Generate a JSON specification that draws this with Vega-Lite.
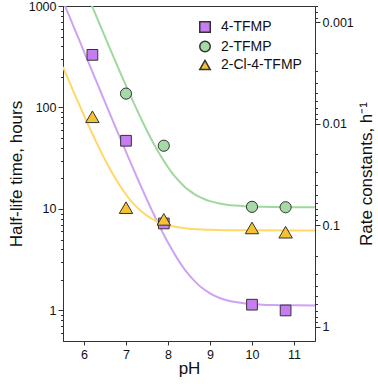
{
  "$schema": "https://vega.github.io/schema/vega-lite/v6.json",
  "width": 252,
  "height": 335,
  "autosize": {"type": "none"},
  "padding": {"left": 63, "top": 6, "right": 63, "bottom": 48},
  "background": "white",
  "config": {
    "font": "Liberation Sans",
    "view": {"stroke": "#333333", "strokeWidth": 1},
    "axis": {"grid": false, "domainColor": "#333333", "tickColor": "#333333", "labelColor": "#111111", "titleColor": "#111111", "labelFontSize": 12.5, "titleFontSize": 17, "titleFontWeight": "normal", "labelPadding": 3}
  },
  "datasets": {
    "curves": [
      {"pH": 5.5, "t": 1121, "compound": "4-TFMP"},
      {"pH": 5.6, "t": 890.7, "compound": "4-TFMP"},
      {"pH": 5.7, "t": 707.8, "compound": "4-TFMP"},
      {"pH": 5.8, "t": 562.5, "compound": "4-TFMP"},
      {"pH": 5.9, "t": 447.0, "compound": "4-TFMP"},
      {"pH": 6.0, "t": 355.3, "compound": "4-TFMP"},
      {"pH": 6.1, "t": 282.5, "compound": "4-TFMP"},
      {"pH": 6.2, "t": 224.6, "compound": "4-TFMP"},
      {"pH": 6.3, "t": 178.6, "compound": "4-TFMP"},
      {"pH": 6.4, "t": 142.1, "compound": "4-TFMP"},
      {"pH": 6.5, "t": 113.1, "compound": "4-TFMP"},
      {"pH": 6.6, "t": 90.08, "compound": "4-TFMP"},
      {"pH": 6.7, "t": 71.79, "compound": "4-TFMP"},
      {"pH": 6.8, "t": 57.25, "compound": "4-TFMP"},
      {"pH": 6.9, "t": 45.71, "compound": "4-TFMP"},
      {"pH": 7.0, "t": 36.54, "compound": "4-TFMP"},
      {"pH": 7.1, "t": 29.25, "compound": "4-TFMP"},
      {"pH": 7.2, "t": 23.47, "compound": "4-TFMP"},
      {"pH": 7.3, "t": 18.87, "compound": "4-TFMP"},
      {"pH": 7.4, "t": 15.22, "compound": "4-TFMP"},
      {"pH": 7.5, "t": 12.32, "compound": "4-TFMP"},
      {"pH": 7.6, "t": 10.02, "compound": "4-TFMP"},
      {"pH": 7.7, "t": 8.187, "compound": "4-TFMP"},
      {"pH": 7.8, "t": 6.733, "compound": "4-TFMP"},
      {"pH": 7.9, "t": 5.579, "compound": "4-TFMP"},
      {"pH": 8.0, "t": 4.662, "compound": "4-TFMP"},
      {"pH": 8.1, "t": 3.933, "compound": "4-TFMP"},
      {"pH": 8.2, "t": 3.355, "compound": "4-TFMP"},
      {"pH": 8.3, "t": 2.895, "compound": "4-TFMP"},
      {"pH": 8.4, "t": 2.530, "compound": "4-TFMP"},
      {"pH": 8.5, "t": 2.240, "compound": "4-TFMP"},
      {"pH": 8.6, "t": 2.010, "compound": "4-TFMP"},
      {"pH": 8.7, "t": 1.827, "compound": "4-TFMP"},
      {"pH": 8.8, "t": 1.681, "compound": "4-TFMP"},
      {"pH": 8.9, "t": 1.566, "compound": "4-TFMP"},
      {"pH": 9.0, "t": 1.474, "compound": "4-TFMP"},
      {"pH": 9.2, "t": 1.343, "compound": "4-TFMP"},
      {"pH": 9.4, "t": 1.261, "compound": "4-TFMP"},
      {"pH": 9.6, "t": 1.209, "compound": "4-TFMP"},
      {"pH": 9.8, "t": 1.176, "compound": "4-TFMP"},
      {"pH": 10.0, "t": 1.155, "compound": "4-TFMP"},
      {"pH": 10.25, "t": 1.140, "compound": "4-TFMP"},
      {"pH": 10.5, "t": 1.131, "compound": "4-TFMP"},
      {"pH": 11.0, "t": 1.124, "compound": "4-TFMP"},
      {"pH": 11.5, "t": 1.121, "compound": "4-TFMP"},
      {"pH": 6.1, "t": 1232, "compound": "2-TFMP"},
      {"pH": 6.2, "t": 981.0, "compound": "2-TFMP"},
      {"pH": 6.3, "t": 781.4, "compound": "2-TFMP"},
      {"pH": 6.4, "t": 622.8, "compound": "2-TFMP"},
      {"pH": 6.5, "t": 496.8, "compound": "2-TFMP"},
      {"pH": 6.6, "t": 396.8, "compound": "2-TFMP"},
      {"pH": 6.7, "t": 317.3, "compound": "2-TFMP"},
      {"pH": 6.8, "t": 254.2, "compound": "2-TFMP"},
      {"pH": 6.9, "t": 204.1, "compound": "2-TFMP"},
      {"pH": 7.0, "t": 164.2, "compound": "2-TFMP"},
      {"pH": 7.1, "t": 132.6, "compound": "2-TFMP"},
      {"pH": 7.2, "t": 107.5, "compound": "2-TFMP"},
      {"pH": 7.3, "t": 87.5, "compound": "2-TFMP"},
      {"pH": 7.4, "t": 71.6, "compound": "2-TFMP"},
      {"pH": 7.5, "t": 59.0, "compound": "2-TFMP"},
      {"pH": 7.6, "t": 49.0, "compound": "2-TFMP"},
      {"pH": 7.7, "t": 41.1, "compound": "2-TFMP"},
      {"pH": 7.8, "t": 34.8, "compound": "2-TFMP"},
      {"pH": 7.9, "t": 29.8, "compound": "2-TFMP"},
      {"pH": 8.0, "t": 25.8, "compound": "2-TFMP"},
      {"pH": 8.1, "t": 22.6, "compound": "2-TFMP"},
      {"pH": 8.2, "t": 20.1, "compound": "2-TFMP"},
      {"pH": 8.3, "t": 18.1, "compound": "2-TFMP"},
      {"pH": 8.4, "t": 16.5, "compound": "2-TFMP"},
      {"pH": 8.5, "t": 15.3, "compound": "2-TFMP"},
      {"pH": 8.6, "t": 14.26, "compound": "2-TFMP"},
      {"pH": 8.7, "t": 13.47, "compound": "2-TFMP"},
      {"pH": 8.8, "t": 12.84, "compound": "2-TFMP"},
      {"pH": 8.9, "t": 12.34, "compound": "2-TFMP"},
      {"pH": 9.0, "t": 11.94, "compound": "2-TFMP"},
      {"pH": 9.2, "t": 11.37, "compound": "2-TFMP"},
      {"pH": 9.4, "t": 11.01, "compound": "2-TFMP"},
      {"pH": 9.6, "t": 10.79, "compound": "2-TFMP"},
      {"pH": 9.8, "t": 10.64, "compound": "2-TFMP"},
      {"pH": 10.0, "t": 10.55, "compound": "2-TFMP"},
      {"pH": 10.25, "t": 10.49, "compound": "2-TFMP"},
      {"pH": 10.5, "t": 10.45, "compound": "2-TFMP"},
      {"pH": 11.0, "t": 10.42, "compound": "2-TFMP"},
      {"pH": 11.5, "t": 10.40, "compound": "2-TFMP"},
      {"pH": 5.5, "t": 251.0, "compound": "2-Cl-4-TFMP"},
      {"pH": 5.6, "t": 200.6, "compound": "2-Cl-4-TFMP"},
      {"pH": 5.7, "t": 160.6, "compound": "2-Cl-4-TFMP"},
      {"pH": 5.8, "t": 128.8, "compound": "2-Cl-4-TFMP"},
      {"pH": 5.9, "t": 103.6, "compound": "2-Cl-4-TFMP"},
      {"pH": 6.0, "t": 83.6, "compound": "2-Cl-4-TFMP"},
      {"pH": 6.1, "t": 67.65, "compound": "2-Cl-4-TFMP"},
      {"pH": 6.2, "t": 55.0, "compound": "2-Cl-4-TFMP"},
      {"pH": 6.3, "t": 44.96, "compound": "2-Cl-4-TFMP"},
      {"pH": 6.4, "t": 36.97, "compound": "2-Cl-4-TFMP"},
      {"pH": 6.5, "t": 30.63, "compound": "2-Cl-4-TFMP"},
      {"pH": 6.6, "t": 25.60, "compound": "2-Cl-4-TFMP"},
      {"pH": 6.7, "t": 21.60, "compound": "2-Cl-4-TFMP"},
      {"pH": 6.8, "t": 18.42, "compound": "2-Cl-4-TFMP"},
      {"pH": 6.9, "t": 15.90, "compound": "2-Cl-4-TFMP"},
      {"pH": 7.0, "t": 13.89, "compound": "2-Cl-4-TFMP"},
      {"pH": 7.1, "t": 12.30, "compound": "2-Cl-4-TFMP"},
      {"pH": 7.2, "t": 11.03, "compound": "2-Cl-4-TFMP"},
      {"pH": 7.3, "t": 10.03, "compound": "2-Cl-4-TFMP"},
      {"pH": 7.4, "t": 9.23, "compound": "2-Cl-4-TFMP"},
      {"pH": 7.5, "t": 8.60, "compound": "2-Cl-4-TFMP"},
      {"pH": 7.6, "t": 8.09, "compound": "2-Cl-4-TFMP"},
      {"pH": 7.7, "t": 7.70, "compound": "2-Cl-4-TFMP"},
      {"pH": 7.8, "t": 7.38, "compound": "2-Cl-4-TFMP"},
      {"pH": 7.9, "t": 7.12, "compound": "2-Cl-4-TFMP"},
      {"pH": 8.0, "t": 6.92, "compound": "2-Cl-4-TFMP"},
      {"pH": 8.2, "t": 6.64, "compound": "2-Cl-4-TFMP"},
      {"pH": 8.4, "t": 6.46, "compound": "2-Cl-4-TFMP"},
      {"pH": 8.6, "t": 6.34, "compound": "2-Cl-4-TFMP"},
      {"pH": 8.8, "t": 6.27, "compound": "2-Cl-4-TFMP"},
      {"pH": 9.0, "t": 6.23, "compound": "2-Cl-4-TFMP"},
      {"pH": 9.5, "t": 6.17, "compound": "2-Cl-4-TFMP"},
      {"pH": 10.0, "t": 6.16, "compound": "2-Cl-4-TFMP"},
      {"pH": 11.0, "t": 6.15, "compound": "2-Cl-4-TFMP"},
      {"pH": 11.5, "t": 6.15, "compound": "2-Cl-4-TFMP"}
    ],
    "points": [
      {"pH": 6.2, "t": 330, "compound": "4-TFMP"},
      {"pH": 7.0, "t": 47, "compound": "4-TFMP"},
      {"pH": 7.9, "t": 7.2, "compound": "4-TFMP"},
      {"pH": 10.0, "t": 1.14, "compound": "4-TFMP"},
      {"pH": 10.8, "t": 1.0, "compound": "4-TFMP"},
      {"pH": 7.0, "t": 137, "compound": "2-TFMP"},
      {"pH": 7.9, "t": 42, "compound": "2-TFMP"},
      {"pH": 10.0, "t": 10.5, "compound": "2-TFMP"},
      {"pH": 10.8, "t": 10.4, "compound": "2-TFMP"},
      {"pH": 6.2, "t": 81, "compound": "2-Cl-4-TFMP"},
      {"pH": 7.0, "t": 10.3, "compound": "2-Cl-4-TFMP"},
      {"pH": 7.9, "t": 7.9, "compound": "2-Cl-4-TFMP"},
      {"pH": 10.0, "t": 6.5, "compound": "2-Cl-4-TFMP"},
      {"pH": 10.8, "t": 5.9, "compound": "2-Cl-4-TFMP"}
    ],
    "rateaxis": [
      {"k": 0.001},
      {"k": 1}
    ]
  },
  "layer": [
    {
      "data": {"name": "curves"},
      "mark": {"type": "line", "strokeWidth": 2, "clip": true, "interpolate": "monotone"},
      "encoding": {
        "x": {"field": "pH", "type": "quantitative", "title": "pH",
              "scale": {"domain": [5.5, 11.5], "nice": false, "zero": false},
              "axis": {"values": [6, 7, 8, 9, 10, 11], "tickSize": 4, "titlePadding": 0, "labelPadding": 3}},
        "y": {"field": "t", "type": "quantitative",
              "scale": {"type": "log", "domain": [0.5, 1000], "nice": false},
              "axis": null},
        "stroke": {"field": "compound", "type": "nominal", "legend": null,
                   "scale": {"domain": ["2-Cl-4-TFMP", "4-TFMP", "2-TFMP"], "range": ["#ffd866", "#cda3f2", "#9fd99f"]}}
      }
    },
    {
      "data": {"name": "points"},
      "mark": {"type": "point", "filled": true, "stroke": "#333333", "strokeWidth": 1, "opacity": 1},
      "encoding": {
        "x": {"field": "pH", "type": "quantitative"},
        "y": {"field": "t", "type": "quantitative", "title": "Half-life time, hours",
              "scale": {"type": "log", "domain": [0.5, 1000], "nice": false},
              "axis": {"orient": "left", "format": "~g",
                       "values": [0.6, 0.7, 0.8, 0.9, 1, 2, 3, 4, 5, 6, 7, 8, 9, 10, 20, 30, 40, 50, 60, 70, 80, 90, 100, 200, 300, 400, 500, 600, 700, 800, 900, 1000],
                       "labelExpr": "abs(log(datum.value)/LN10 - round(log(datum.value)/LN10)) < 1e-6 ? datum.label : ''",
                       "tickSize": {"condition": {"test": "abs(log(datum.value)/LN10 - round(log(datum.value)/LN10)) < 1e-6", "value": 5}, "value": 2.5},
                       "labelPadding": 2, "titlePadding": 3}},
        "fill": {"field": "compound", "type": "nominal", "title": null,
                 "scale": {"domain": ["4-TFMP", "2-TFMP", "2-Cl-4-TFMP"], "range": ["#c77df2", "#a5d9a5", "#f6c232"]},
                 "legend": {"orient": "none", "legendX": 135, "legendY": 14, "labelFontSize": 14, "symbolSize": 110, "rowPadding": 1.5, "labelOffset": 9, "labelColor": "#111111",
                            "encode": {"symbols": {"update": {"stroke": {"value": "#333333"}, "strokeWidth": {"value": 1}}}}}},
        "shape": {"field": "compound", "type": "nominal", "title": null,
                  "scale": {"domain": ["4-TFMP", "2-TFMP", "2-Cl-4-TFMP"], "range": ["square", "circle", "triangle-up"]},
                  "legend": {"orient": "none", "legendX": 135, "legendY": 14, "labelFontSize": 14, "symbolSize": 110, "rowPadding": 1.5, "labelOffset": 9, "labelColor": "#111111",
                             "encode": {"symbols": {"update": {"stroke": {"value": "#333333"}, "strokeWidth": {"value": 1}}}}}},
        "size": {"field": "compound", "type": "nominal", "legend": null,
                 "scale": {"type": "ordinal", "domain": ["2-TFMP", "2-Cl-4-TFMP", "4-TFMP"], "range": [125, 180, 115]}}
      }
    },
    {
      "data": {"name": "rateaxis"},
      "mark": {"type": "point", "opacity": 0},
      "encoding": {
        "y": {"field": "k", "type": "quantitative", "title": "Rate constants, h⁻¹",
              "scale": {"type": "log", "domain": [0.000693, 1.386], "reverse": true, "nice": false},
              "axis": {"orient": "right", "format": "~g",
                       "values": [0.0007, 0.0008, 0.0009, 0.001, 0.002, 0.003, 0.004, 0.005, 0.006, 0.007, 0.008, 0.009, 0.01, 0.02, 0.03, 0.04, 0.05, 0.06, 0.07, 0.08, 0.09, 0.1, 0.2, 0.3, 0.4, 0.5, 0.6, 0.7, 0.8, 0.9, 1],
                       "labelExpr": "abs(log(datum.value)/LN10 - round(log(datum.value)/LN10)) < 1e-6 ? datum.label : ''",
                       "tickSize": {"condition": {"test": "abs(log(datum.value)/LN10 - round(log(datum.value)/LN10)) < 1e-6", "value": 5}, "value": 2.5},
                       "titleAngle": -90, "titlePadding": 22, "labelPadding": 2}}
      }
    }
  ],
  "resolve": {"scale": {"y": "independent"}, "axis": {"y": "independent"}}
}
